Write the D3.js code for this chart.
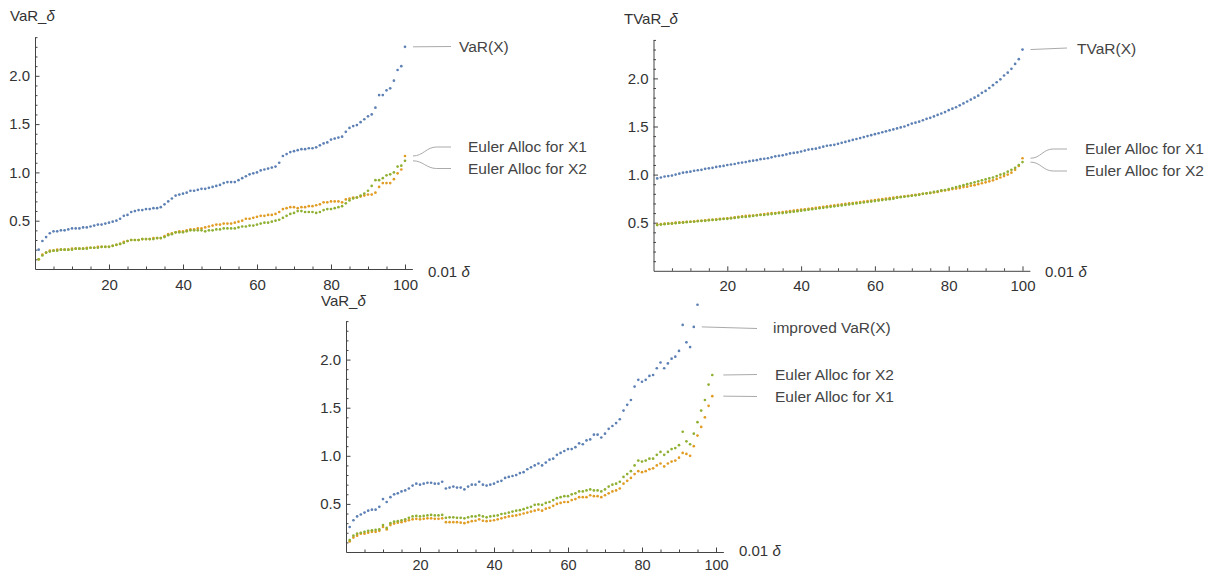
<!DOCTYPE html>
<html><head><meta charset="utf-8">
<script src="https://cdn.jsdelivr.net/npm/d3@7"></script>
<style>
body{margin:0;background:#fff}
svg text{font-family:"Liberation Sans",Arial,sans-serif}
</style>
</head><body>
<svg id="chart" width="1216" height="574"></svg>
<script>
// ---------- data ----------
const deltaPct = [1,2,3,4,5,6,7,8,9,10,11,12,13,14,15,16,17,18,19,20,21,22,23,24,25,26,27,28,29,30,
31,32,33,34,35,36,37,38,39,40,41,42,43,44,45,46,47,48,49,50,51,52,53,54,55,56,57,58,59,60,
61,62,63,64,65,66,67,68,69,70,71,72,73,74,75,76,77,78,79,80,81,82,83,84,85,86,87,88,89,90,
91,92,93,94,95,96,97,98,99,100];
const xTicks = [20,40,60,80,100];
const yTicks = [0.5,1.0,1.5,2.0];

// Panel 1: VaR
const varX = [0.20,0.29,0.33,0.37,0.39,0.39,0.40,0.40,0.41,0.42,
0.42,0.42,0.43,0.43,0.44,0.45,0.46,0.46,0.47,0.48,
0.49,0.50,0.52,0.55,0.56,0.59,0.60,0.61,0.61,0.62,
0.62,0.63,0.63,0.64,0.67,0.70,0.73,0.76,0.77,0.78,
0.79,0.81,0.81,0.82,0.83,0.83,0.84,0.85,0.86,0.87,
0.89,0.90,0.90,0.90,0.92,0.94,0.96,0.98,0.99,1.00,
1.02,1.03,1.04,1.05,1.06,1.10,1.17,1.19,1.21,1.22,
1.23,1.24,1.24,1.25,1.25,1.26,1.28,1.30,1.31,1.34,
1.35,1.36,1.37,1.42,1.46,1.48,1.49,1.52,1.55,1.58,
1.60,1.67,1.80,1.80,1.85,1.87,1.95,2.06,2.10,2.30];
const varX1 = [0.10,0.15,0.17,0.19,0.19,0.20,0.20,0.20,0.20,0.21,
0.21,0.21,0.21,0.22,0.22,0.22,0.23,0.23,0.23,0.23,
0.24,0.25,0.26,0.28,0.29,0.30,0.30,0.30,0.31,0.31,
0.31,0.32,0.32,0.32,0.34,0.36,0.37,0.38,0.39,0.39,
0.40,0.41,0.41,0.42,0.42,0.43,0.44,0.45,0.46,0.46,
0.47,0.47,0.47,0.48,0.49,0.50,0.52,0.52,0.53,0.54,
0.55,0.55,0.56,0.56,0.57,0.59,0.62,0.63,0.64,0.64,
0.63,0.64,0.64,0.65,0.65,0.66,0.67,0.69,0.69,0.70,
0.70,0.70,0.69,0.72,0.73,0.74,0.74,0.75,0.76,0.77,
0.77,0.79,0.85,0.89,0.89,0.89,0.93,0.99,1.03,1.17];
const varX2 = [0.10,0.14,0.17,0.18,0.19,0.19,0.20,0.20,0.20,0.20,
0.21,0.21,0.21,0.21,0.22,0.22,0.22,0.23,0.23,0.23,
0.24,0.25,0.26,0.27,0.29,0.30,0.30,0.30,0.31,0.31,
0.31,0.31,0.32,0.32,0.33,0.35,0.36,0.38,0.38,0.38,
0.39,0.40,0.40,0.40,0.40,0.39,0.40,0.40,0.41,0.41,
0.42,0.42,0.42,0.42,0.43,0.44,0.44,0.45,0.45,0.46,
0.47,0.48,0.48,0.49,0.50,0.51,0.53,0.55,0.57,0.58,
0.60,0.60,0.59,0.59,0.59,0.58,0.59,0.61,0.62,0.62,
0.63,0.64,0.65,0.68,0.71,0.73,0.74,0.76,0.78,0.81,
0.86,0.92,0.92,0.94,0.97,0.98,1.00,1.06,1.07,1.12];

// Panel 2: TVaR
const tvarX = [0.96,0.97,0.98,0.985,0.99,1.00,1.01,1.02,1.025,1.03,
1.04,1.045,1.05,1.06,1.065,1.07,1.08,1.085,1.09,1.10,
1.105,1.11,1.12,1.125,1.13,1.14,1.145,1.15,1.16,1.165,
1.17,1.18,1.19,1.195,1.20,1.21,1.22,1.225,1.23,1.24,
1.25,1.26,1.265,1.27,1.28,1.29,1.30,1.305,1.31,1.32,
1.33,1.34,1.35,1.36,1.37,1.38,1.39,1.40,1.41,1.42,
1.43,1.44,1.45,1.46,1.47,1.48,1.49,1.50,1.515,1.53,
1.54,1.55,1.565,1.58,1.59,1.605,1.62,1.635,1.65,1.67,
1.685,1.70,1.72,1.74,1.76,1.78,1.80,1.82,1.85,1.87,
1.90,1.93,1.96,1.99,2.03,2.06,2.10,2.15,2.20,2.30];
const tvarX1 = [0.48,0.485,0.49,0.49,0.495,0.50,0.50,0.505,0.51,0.51,
0.515,0.52,0.52,0.525,0.53,0.53,0.535,0.54,0.54,0.545,
0.55,0.555,0.56,0.565,0.57,0.575,0.575,0.58,0.585,0.59,
0.595,0.60,0.60,0.605,0.61,0.615,0.62,0.625,0.63,0.635,
0.64,0.645,0.65,0.655,0.66,0.665,0.67,0.675,0.68,0.685,
0.69,0.695,0.70,0.705,0.71,0.715,0.72,0.725,0.73,0.735,
0.74,0.745,0.75,0.755,0.76,0.765,0.77,0.775,0.78,0.785,
0.79,0.795,0.80,0.805,0.81,0.815,0.82,0.83,0.835,0.84,
0.85,0.855,0.86,0.87,0.875,0.885,0.89,0.90,0.91,0.92,
0.93,0.94,0.955,0.97,0.985,1.00,1.02,1.05,1.09,1.17];
const tvarX2 = [0.475,0.48,0.485,0.49,0.49,0.495,0.50,0.50,0.505,0.51,
0.51,0.515,0.52,0.52,0.525,0.53,0.53,0.535,0.54,0.54,
0.545,0.55,0.555,0.56,0.56,0.565,0.57,0.575,0.58,0.58,
0.585,0.59,0.595,0.60,0.60,0.605,0.61,0.615,0.62,0.625,
0.63,0.635,0.64,0.645,0.65,0.655,0.66,0.665,0.67,0.675,
0.68,0.685,0.69,0.695,0.70,0.705,0.71,0.715,0.72,0.725,
0.73,0.735,0.74,0.745,0.75,0.76,0.765,0.77,0.775,0.78,
0.785,0.79,0.80,0.805,0.81,0.82,0.825,0.835,0.84,0.85,
0.86,0.87,0.88,0.89,0.90,0.91,0.92,0.93,0.94,0.95,
0.96,0.97,0.985,1.00,1.01,1.03,1.05,1.07,1.10,1.13];

// Panel 3: improved VaR (points beyond the plot range are not shown)
const impVarX = [0.26,0.33,0.37,0.39,0.41,0.43,0.44,0.44,0.47,0.55,
0.52,0.57,0.60,0.61,0.63,0.64,0.66,0.69,0.71,0.70,
0.71,0.72,0.72,0.71,0.71,0.73,0.66,0.67,0.68,0.67,
0.67,0.65,0.68,0.70,0.70,0.73,0.70,0.69,0.70,0.71,
0.73,0.74,0.77,0.78,0.79,0.80,0.82,0.83,0.86,0.88,
0.90,0.92,0.90,0.93,0.96,0.97,1.01,1.03,1.05,1.07,
1.07,1.09,1.13,1.12,1.16,1.17,1.22,1.22,1.19,1.23,
1.28,1.31,1.34,1.38,1.47,1.53,1.58,1.72,1.79,1.77,
1.79,1.83,1.84,1.91,1.97,1.91,1.96,2.01,2.03,2.09,
2.36,2.18,2.13,2.34,2.57,null,null,null,null,null];
const impX2 = [0.125,0.17,0.19,0.20,0.21,0.22,0.225,0.23,0.235,0.28,
0.25,0.30,0.315,0.32,0.33,0.34,0.355,0.37,0.375,0.37,
0.375,0.38,0.385,0.38,0.38,0.385,0.355,0.36,0.36,0.355,
0.355,0.35,0.36,0.37,0.37,0.38,0.37,0.36,0.37,0.375,
0.38,0.395,0.40,0.41,0.42,0.43,0.435,0.445,0.46,0.47,
0.49,0.495,0.49,0.51,0.52,0.54,0.56,0.57,0.58,0.58,
0.60,0.61,0.63,0.63,0.64,0.65,0.64,0.64,0.63,0.65,
0.68,0.70,0.71,0.73,0.78,0.81,0.84,0.90,0.95,0.94,
0.95,0.97,0.97,1.01,1.04,1.01,1.04,1.07,1.08,1.11,
1.25,1.15,1.12,1.23,1.35,1.47,1.58,1.74,1.84,null];
const impX1 = [0.11,0.15,0.17,0.19,0.19,0.20,0.21,0.21,0.22,0.26,
0.235,0.28,0.295,0.305,0.31,0.32,0.33,0.34,0.345,0.34,
0.345,0.35,0.35,0.345,0.345,0.35,0.31,0.31,0.31,0.31,
0.305,0.30,0.31,0.32,0.325,0.34,0.325,0.32,0.325,0.33,
0.34,0.35,0.36,0.37,0.375,0.38,0.39,0.40,0.41,0.42,
0.43,0.44,0.43,0.45,0.46,0.48,0.50,0.51,0.52,0.52,
0.54,0.55,0.57,0.57,0.57,0.59,0.58,0.58,0.57,0.59,
0.61,0.63,0.64,0.66,0.71,0.74,0.77,0.81,0.84,0.83,
0.84,0.86,0.87,0.90,0.92,0.89,0.92,0.94,0.95,0.98,
1.03,1.02,1.00,1.10,1.21,1.30,1.40,1.52,1.62,null];

// ---------- layout / style ----------
const C = {blue:"#5e81b5", orange:"#e19c24", green:"#8fb032"};
const svg = d3.select("#chart");

const panels = [
  { ox:35, oy:269, xpx:3.7, ypx:96.6, tickPad:10, tickFont:15, yTitle:"VaR_", yTitleX:10, yTitleY:21, xLabX:428, xLabY:277,
    series:[{v:varX,c:C.blue},{v:varX1,c:C.orange},{v:varX2,c:C.green}],
    legend:[
      {text:"VaR(X)", tx:459, ty:46, s:varX, si:99, ex:451, ey:46.5, bend:false},
      {text:"Euler Alloc for X1", tx:468, ty:146, s:varX1, si:99, ex:451, ey:147, bend:true},
      {text:"Euler Alloc for X2", tx:468, ty:168, s:varX2, si:99, ex:451, ey:168.5, bend:true}
    ]},
  { ox:653.5, oy:270.8, xpx:3.69, ypx:96.2, tickPad:10, tickFont:15, yTitle:"TVaR_", yTitleX:624, yTitleY:24, xLabX:1045, xLabY:277,
    series:[{v:tvarX,c:C.blue},{v:tvarX1,c:C.orange},{v:tvarX2,c:C.green}],
    legend:[
      {text:"TVaR(X)", tx:1077, ty:48, s:tvarX, si:99, ex:1067, ey:48, bend:false},
      {text:"Euler Alloc for X1", tx:1085, ty:148, s:tvarX1, si:99, ex:1067, ey:149, bend:true},
      {text:"Euler Alloc for X2", tx:1085, ty:170, s:tvarX2, si:99, ex:1067, ey:171, bend:true}
    ]},
  { ox:346, oy:552, xpx:3.7, ypx:96.2, tickPad:7.5, tickFont:14.5, yTitle:"VaR_", yTitleX:321, yTitleY:306, xLabX:739, xLabY:556,
    series:[{v:impVarX,c:C.blue},{v:impX1,c:C.orange},{v:impX2,c:C.green}],
    legend:[
      {text:"improved VaR(X)", tx:773, ty:327, s:impVarX, si:93, ex:757, ey:328.5, bend:false},
      {text:"Euler Alloc for X2", tx:775, ty:374, s:impX2, si:98, ex:757, ey:374.5, bend:false, dx:11},
      {text:"Euler Alloc for X1", tx:775, ty:396, s:impX1, si:98, ex:757, ey:396.5, bend:false, dx:11}
    ]}
];

panels.forEach(p => {
  const x = d3.scaleLinear().domain([0, 102]).range([p.ox, p.ox + 102*p.xpx]);
  const y = d3.scaleLinear().domain([0, 2.4]).range([p.oy, p.oy - 2.4*p.ypx]);
  const g = svg.append("g");

  const xMinor = d3.range(5, 101, 5).filter(d => d % 20 !== 0);
  const yMinor = d3.range(1, 25).map(d => d/10).filter(d => Math.abs(d*2 - Math.round(d*2)) > 1e-6);

  // minor ticks
  g.append("g").attr("transform", `translate(0,${p.oy})`)
    .call(d3.axisBottom(x).tickValues(xMinor).tickSize(-2.5).tickSizeOuter(0).tickFormat(""))
    .call(a => a.select(".domain").remove());
  g.append("g").attr("transform", `translate(${p.ox},0)`)
    .call(d3.axisLeft(y).tickValues(yMinor).tickSize(-2.5).tickSizeOuter(0).tickFormat(""))
    .call(a => a.select(".domain").remove());
  // major ticks + labels
  const xa = g.append("g").attr("transform", `translate(0,${p.oy})`)
    .call(d3.axisBottom(x).tickValues(xTicks).tickSize(-4.5).tickSizeOuter(0).tickPadding(p.tickPad).tickFormat(d3.format("d")));
  const ya = g.append("g").attr("transform", `translate(${p.ox},0)`)
    .call(d3.axisLeft(y).tickValues(yTicks).tickSize(-4.5).tickSizeOuter(0).tickPadding(5).tickFormat(d3.format(".1f")));
  xa.selectAll("text").attr("font-size", p.tickFont);
  ya.selectAll("text").attr("font-size", 15);
  [xa, ya].forEach(a => {
    a.selectAll("text").attr("fill", "#333")
      .style("font-family", '"Liberation Sans",Arial,sans-serif');
  });
  g.selectAll(".tick line").attr("stroke", "#444");
  g.selectAll(".domain").attr("stroke", "#444");

  // axis titles
  const yt = g.append("text").attr("x", p.yTitleX).attr("y", p.yTitleY)
    .attr("font-size", 15).attr("fill", "#333").text(p.yTitle);
  yt.append("tspan").attr("font-style", "italic").text("δ");
  const xt = g.append("text").attr("x", p.xLabX).attr("y", p.xLabY)
    .attr("font-size", 15).attr("fill", "#333").text("0.01 ");
  xt.append("tspan").attr("font-style", "italic").text("δ");

  // points
  p.series.forEach(s => {
    const pts = s.v.map((v, i) => ({x: deltaPct[i], y: v})).filter(d => d.y !== null);
    g.append("g").selectAll("circle").data(pts).join("circle")
      .attr("cx", d => x(d.x)).attr("cy", d => y(d.y)).attr("r", 1.35)
      .attr("fill", s.c);
  });

  // callout labels
  p.legend.forEach(l => {
    const sx = x(deltaPct[l.si]) + (l.dx || 8);
    const sy = y(l.s[l.si]);
    const path = d3.path();
    path.moveTo(sx, sy);
    if (l.bend) {
      const mx = sx + (l.ex - sx) * 0.62;
      path.bezierCurveTo(sx + 10, sy, mx - 10, l.ey, mx, l.ey);
      path.lineTo(l.ex, l.ey);
    } else {
      path.lineTo(l.ex, l.ey);
    }
    g.append("path").attr("d", path.toString()).attr("fill", "none")
      .attr("stroke", "#aaa").attr("stroke-width", 1);
    g.append("text").attr("x", l.tx).attr("y", l.ty).attr("dy", "0.36em")
      .attr("font-size", 15.5).attr("fill", "#444").text(l.text);
  });
});
</script>
</body></html>
